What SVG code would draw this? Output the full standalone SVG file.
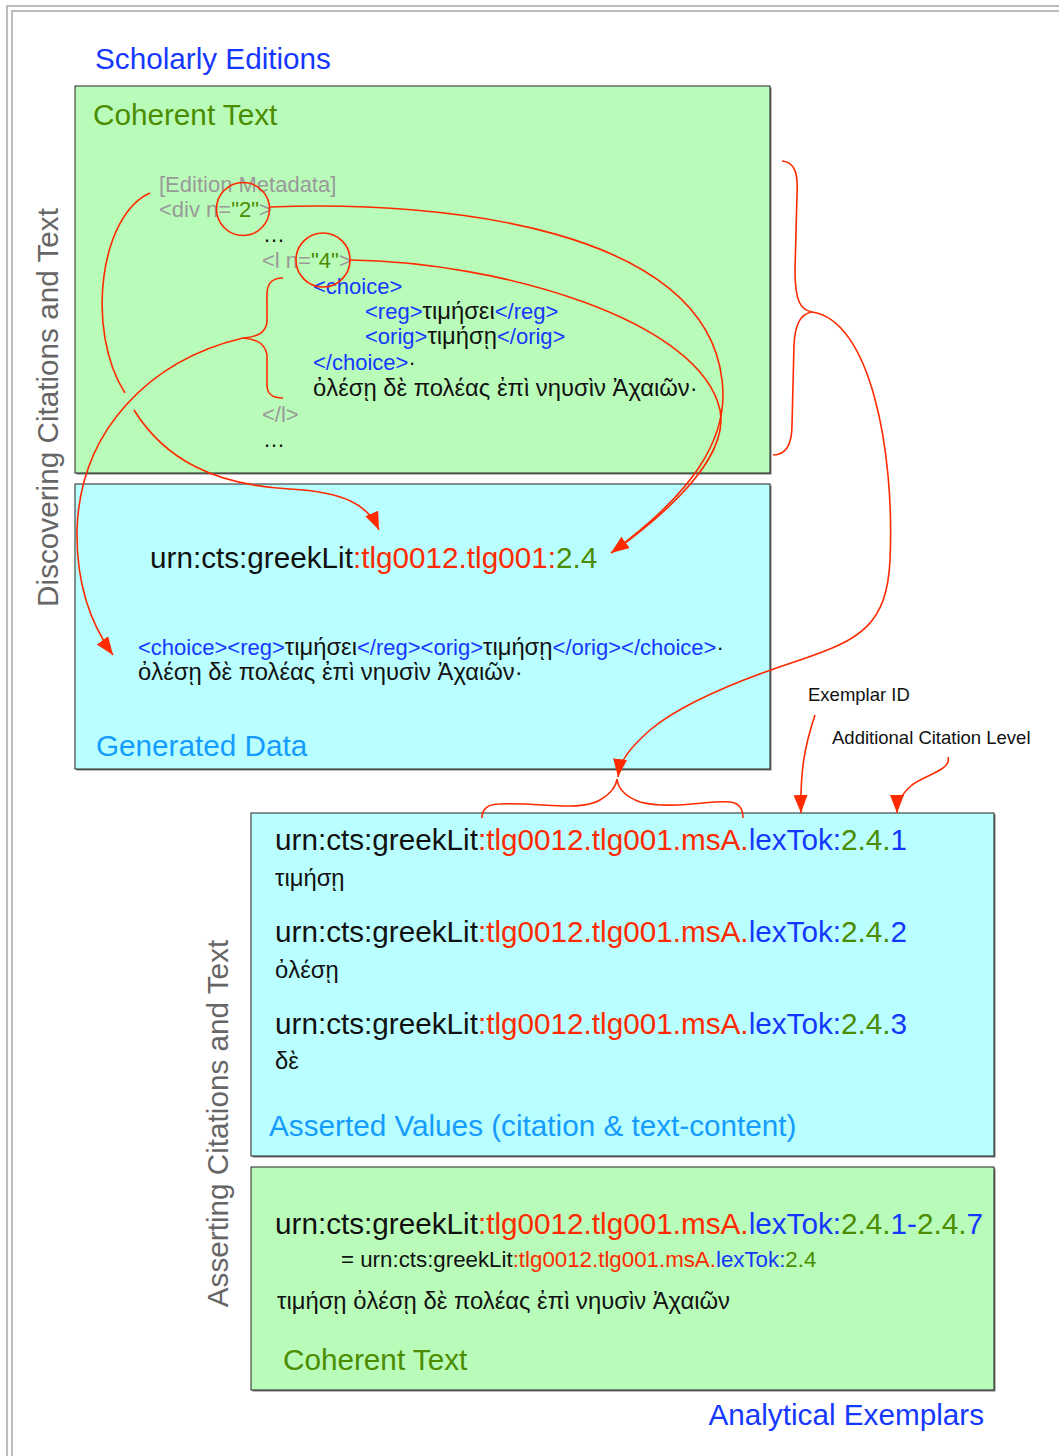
<svg xmlns="http://www.w3.org/2000/svg" width="1059" height="1456" viewBox="0 0 1059 1456">
<style>
.t{font-family:"Liberation Sans","DejaVu Sans","Noto Sans",sans-serif}
.big{font-size:29.7px}
.code{font-size:22px}
.gk{font-size:23.8px}
.small{font-size:18.5px}
.blk{fill:#111}
.red{fill:#ff2a00}
.grn{fill:#4b8c00}
.blu{fill:#1538ff}
.gry{fill:#999}
.dgry{fill:#666}
.sky{fill:#149cff}
.conn{fill:none;stroke:#ff2a00;stroke-width:1.6}
.boxg{fill:#b9fcb9;stroke:#222;stroke-width:1}
.boxc{fill:#b9ffff;stroke:#222;stroke-width:1}
.shadow{fill:#7a7a7a}
.frame{fill:none;stroke:#a8a8a8;stroke-width:1.5}
</style>
<defs>
<marker id="ah" markerUnits="userSpaceOnUse" markerWidth="20" markerHeight="16" refX="18" refY="7" orient="auto">
<path d="M0,0 L18,7 L0,14 z" fill="#ff2a00"/>
</marker>
</defs>
<rect width="1059" height="1456" fill="#fff"/>
<g id="frame">
<rect class="frame" x="7" y="6" width="1100" height="1500"/>
<rect class="frame" x="12" y="11" width="1100" height="1500"/>
</g>
<g id="side-labels">
<text class="t big dgry" transform="translate(58,407.5) rotate(-90)" text-anchor="middle">Discovering Citations and Text</text>
<text class="t big dgry" transform="translate(228,1123.5) rotate(-90)" text-anchor="middle">Asserting Citations and Text</text>
</g>
<g id="scholarly-editions-label">
<text class="t big blu" x="95" y="69">Scholarly Editions</text>
</g>
<g id="coherent-text-source">
<rect class="shadow" x="76.5" y="87.5" width="695" height="387"/>
<rect class="boxg" x="75" y="86" width="695" height="387"/>
<text class="t big grn" x="93" y="125">Coherent Text</text>
<text class="t code gry" x="159" y="192">[Edition Metadata]</text>
<text class="t code gry" x="159" y="217">&lt;div n=<tspan class="grn">"2"</tspan>&gt;</text>
<text class="t code blk" x="263" y="242">…</text>
<text class="t code gry" x="262" y="268">&lt;l n=<tspan class="grn">"4"</tspan>&gt;</text>
<text class="t code blu" x="313" y="294">&lt;choice&gt;</text>
<text class="t code blu" x="365" y="319">&lt;reg&gt;<tspan class="blk gk">τιμήσει</tspan>&lt;/reg&gt;</text>
<text class="t code blu" x="365" y="344">&lt;orig&gt;<tspan class="blk gk">τιμήσῃ</tspan>&lt;/orig&gt;</text>
<text class="t code blu" x="313" y="370">&lt;/choice&gt;<tspan class="blk">·</tspan></text>
<text class="t gk blk" x="313" y="396">ὀλέσῃ δὲ πολέας ἐπὶ νηυσὶν Ἀχαιῶν·</text>
<text class="t code gry" x="262" y="422">&lt;/l&gt;</text>
<text class="t code blk" x="263" y="447">…</text>
</g>
<g id="generated-data">
<rect class="shadow" x="76.5" y="485.5" width="695" height="285"/>
<rect class="boxc" x="75" y="484" width="695" height="285"/>
<text class="t big blk" x="150" y="568">urn:cts:greekLit<tspan class="red">:tlg0012.tlg001:</tspan><tspan class="grn">2.4</tspan></text>
<text class="t code blu" x="138" y="655">&lt;choice&gt;&lt;reg&gt;<tspan class="blk gk">τιμήσει</tspan>&lt;/reg&gt;&lt;orig&gt;<tspan class="blk gk">τιμήσῃ</tspan>&lt;/orig&gt;&lt;/choice&gt;<tspan class="blk">·</tspan></text>
<text class="t gk blk" x="138" y="680">ὀλέσῃ δὲ πολέας ἐπὶ νηυσὶν Ἀχαιῶν·</text>
<text class="t big sky" x="96" y="756">Generated Data</text>
</g>
<g id="exemplar-id-label">
<text class="t small blk" x="808" y="701">Exemplar ID</text>
</g>
<g id="additional-citation-label">
<text class="t small blk" x="832" y="744">Additional Citation Level</text>
</g>
<g id="asserted-values">
<rect class="shadow" x="252.5" y="814.5" width="743" height="343"/>
<rect class="boxc" x="251" y="813" width="743" height="343"/>
<text class="t big blk" x="275" y="850">urn:cts:greekLit<tspan class="red">:tlg0012.tlg001.msA.</tspan><tspan class="blu">lexTok:</tspan><tspan class="grn">2.4.</tspan><tspan class="blu">1</tspan></text>
<text class="t gk blk" x="275" y="886">τιμήσῃ</text>
<text class="t big blk" x="275" y="942">urn:cts:greekLit<tspan class="red">:tlg0012.tlg001.msA.</tspan><tspan class="blu">lexTok:</tspan><tspan class="grn">2.4.</tspan><tspan class="blu">2</tspan></text>
<text class="t gk blk" x="275" y="978">ὀλέσῃ</text>
<text class="t big blk" x="275" y="1034">urn:cts:greekLit<tspan class="red">:tlg0012.tlg001.msA.</tspan><tspan class="blu">lexTok:</tspan><tspan class="grn">2.4.</tspan><tspan class="blu">3</tspan></text>
<text class="t gk blk" x="275" y="1069">δὲ</text>
<text class="t big sky" x="269" y="1136">Asserted Values (citation &amp; text-content)</text>
</g>
<g id="coherent-text-exemplar">
<rect class="shadow" x="252.5" y="1168.5" width="743" height="223"/>
<rect class="boxg" x="251" y="1167" width="743" height="223"/>
<text class="t big blk" x="275" y="1234">urn:cts:greekLit<tspan class="red">:tlg0012.tlg001.msA.</tspan><tspan class="blu">lexTok:</tspan><tspan class="grn">2.4.</tspan><tspan class="blu">1-</tspan><tspan class="grn">2.4.</tspan><tspan class="blu">7</tspan></text>
<text class="t blk" style="font-size:22.3px" x="341" y="1267">= urn:cts:greekLit<tspan class="red">:tlg0012.tlg001.msA.</tspan><tspan class="blu">lexTok:</tspan><tspan class="grn">2.4</tspan></text>
<text class="t gk blk" x="277" y="1309">τιμήσῃ ὀλέσῃ δὲ πολέας ἐπὶ νηυσὶν Ἀχαιῶν</text>
<text class="t big grn" x="283" y="1370">Coherent Text</text>
</g>
<g id="analytical-exemplars-label">
<text class="t big blu" x="984" y="1425" text-anchor="end">Analytical Exemplars</text>
</g>
<g id="connectors">
<circle class="conn" cx="243" cy="209" r="26.5"/>
<circle class="conn" cx="323" cy="260" r="27"/>
<path class="conn" d="M270,207 C450,200 705,230 722,380 C730,440 690,495 611,553" marker-end="url(#ah)"/>
<path class="conn" d="M350,260 C500,262 700,320 720,410 C728,450 685,500 613,552"/>
<path class="conn" d="M150,193 C100,215 85,330 125,393"/>
<path class="conn" d="M134,410 C165,460 215,485 290,489 C345,492 368,505 379,530" marker-end="url(#ah)"/>
<path class="conn" d="M283,278 C270,278 266,285 267,300 L267,318 C268,332 258,337 243,338 C258,339 268,345 267,360 L267,385 C267,395 273,398 283,398"/>
<path class="conn" d="M243,338 C150,360 80,430 77,530 C76,590 95,630 113,655" marker-end="url(#ah)"/>
<path class="conn" d="M782,161 C796,162 798,175 797,195 L795,270 C795,300 800,310 812,312 C800,314 795,325 794,345 L792,425 C792,445 785,455 773,455"/>
<path class="conn" d="M812,312 C870,320 895,450 890,560 C887,625 860,640 800,660 C730,683 680,705 650,730 C630,748 620,760 618,777" marker-end="url(#ah)"/>
<path class="conn" d="M482,818 C482,808 488,804 500,804 C540,802 580,812 600,800 C610,794 616,788 617,779 C618,788 624,796 640,802 C670,810 710,800 730,802 C740,803 743,810 743,818"/>
<path class="conn" d="M815,715 C805,745 800,770 801,813" marker-end="url(#ah)"/>
<path class="conn" d="M948,757 C952,770 925,775 912,785 C900,795 897,805 897,813" marker-end="url(#ah)"/>
</g>
</svg>
